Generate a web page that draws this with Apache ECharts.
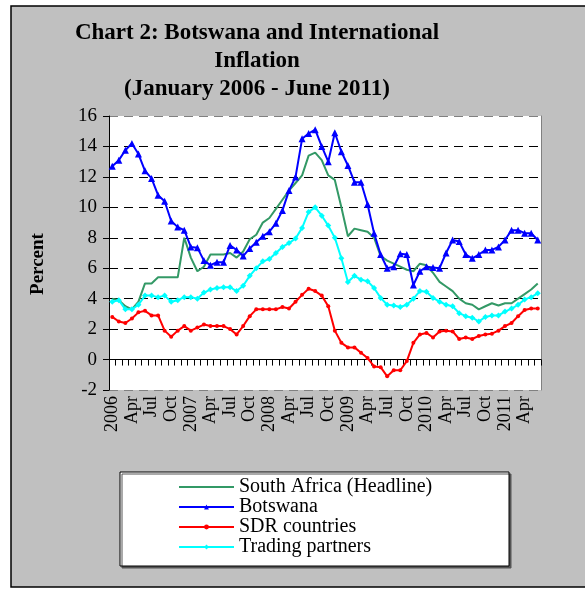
<!DOCTYPE html>
<html>
<head>
<meta charset="utf-8">
<script src="https://cdn.jsdelivr.net/npm/echarts@6/dist/echarts.min.js"></script>
<style>
html,body{margin:0;padding:0;background:#fff;}
#chart{width:585px;height:589px;}
</style>
</head>
<body>
<div id="chart"></div>
<script>
var monthNames = ['Jan','Feb','Mar','Apr','May','Jun','Jul','Aug','Sep','Oct','Nov','Dec'];
var years = [2006, 2007, 2008, 2009, 2010, 2011];
var categories = [];
years.forEach(function (y) {
  monthNames.forEach(function (m, k) {
    if (y === 2011 && k > 5) return;
    categories.push(k === 0 ? String(y) : m);
  });
});

var southAfrica = [4.0, 3.9, 3.5, 3.3, 3.8, 5.0, 5.0, 5.4, 5.4, 5.4, 5.4, 8.0,
  6.7, 5.8, 6.1, 6.9, 6.9, 6.9, 7.0, 6.7, 7.1, 7.9, 8.2, 9.0,
  9.3, 9.9, 10.5, 11.1, 11.6, 12.1, 13.4, 13.6, 13.1, 12.1, 11.8, 10.0,
  8.1, 8.6, 8.5, 8.4, 8.0, 6.8, 6.5, 6.3, 6.1, 5.9, 5.8, 6.3,
  6.2, 5.7, 5.1, 4.8, 4.5, 4.0, 3.7, 3.6, 3.3, 3.5, 3.7, 3.55,
  3.7, 3.7, 4.0, 4.3, 4.6, 5.0];
var botswana = [12.7, 13.1, 13.75, 14.2, 13.5, 12.4, 11.9, 10.8, 10.4, 9.1, 8.7, 8.5,
  7.4, 7.35, 6.5, 6.2, 6.4, 6.4, 7.5, 7.2, 6.8, 7.3, 7.7, 8.1,
  8.4, 8.95, 9.8, 11.1, 12.0, 14.5, 14.85, 15.1, 14.0, 13.0, 14.9, 13.65,
  12.75, 11.65, 11.65, 10.2, 8.3, 6.9, 6.0, 6.1, 6.95, 6.9, 4.9, 5.8,
  6.1, 6.05, 6.0, 7.0, 7.85, 7.75, 6.9, 6.65, 6.9, 7.2, 7.2, 7.4,
  7.85, 8.5, 8.5, 8.3, 8.3, 7.85];
var sdrCountries = [2.8, 2.5, 2.4, 2.7, 3.1, 3.2, 2.9, 2.9, 1.9, 1.5, 1.9, 2.2,
  1.9, 2.1, 2.3, 2.2, 2.2, 2.2, 2.0, 1.65, 2.2, 2.85, 3.3, 3.3,
  3.3, 3.3, 3.45, 3.35, 3.8, 4.25, 4.65, 4.5, 4.2, 3.5, 1.9, 1.1,
  0.8, 0.8, 0.45, 0.1, -0.45, -0.5, -1.1, -0.7, -0.7, -0.1, 1.1, 1.65,
  1.75, 1.45, 1.85, 1.9, 1.85, 1.35, 1.45, 1.35, 1.55, 1.65, 1.7, 1.9,
  2.2, 2.4, 2.85, 3.25, 3.35, 3.35];
var tradingPartners = [3.8, 3.9, 3.3, 3.3, 3.6, 4.2, 4.2, 4.1, 4.2, 3.8, 3.9, 4.1,
  4.1, 4.0, 4.4, 4.6, 4.7, 4.75, 4.75, 4.5, 4.85, 5.5, 6.0, 6.45,
  6.6, 7.0, 7.4, 7.65, 7.95, 8.65, 9.7, 10.0, 9.45, 8.8, 8.0, 6.65,
  5.1, 5.5, 5.25, 5.15, 4.7, 4.05, 3.6, 3.55, 3.45, 3.6, 4.0, 4.5,
  4.45, 4.05, 3.8, 3.6, 3.5, 3.05, 2.85, 2.75, 2.5, 2.8, 2.9, 2.9,
  3.15, 3.35, 3.6, 3.95, 4.1, 4.35];

var yTicks = { min: -2, max: 16, interval: 2 };
var seriesNames = ['South Africa (Headline)', 'Botswana', 'SDR countries', 'Trading partners'];

var serif = 'Liberation Serif';
var chart = echarts.init(document.getElementById('chart'), null, { renderer: 'canvas' });

var splitColors = [];
for (var v = yTicks.min; v <= yTicks.max; v += yTicks.interval) {
  splitColors.push((v === yTicks.min || v === yTicks.max) ? '#808080' : '#000000');
}

chart.setOption({
  backgroundColor: 'transparent',
  animation: false,
  title: {
    text: 'Chart 2: Botswana and International\nInflation\n(January 2006 - June 2011)',
    left: 257,
    top: 19,
    textAlign: 'center',
    padding: 0,
    textStyle: { fontFamily: serif, fontWeight: 'bold', fontSize: 23, lineHeight: 28, color: '#000' }
  },
  graphic: [
    { type: 'rect', z: -10, shape: { x: 11, y: 6, width: 600, height: 581 },
      style: { fill: '#c0c0c0', stroke: '#000', lineWidth: 1.5 } },
    { type: 'rect', z: 1, shape: { x: 120, y: 472, width: 389, height: 94 },
      style: { fill: '#fff', stroke: '#000', lineWidth: 1, shadowColor: '#555', shadowOffsetX: 2, shadowOffsetY: 2, shadowBlur: 0 } },
    { type: 'text', z: 5, x: 38, y: 264, rotation: Math.PI / 2,
      style: { text: 'Percent', fontFamily: serif, fontWeight: 'bold', fontSize: 19, fill: '#000', textAlign: 'center', textVerticalAlign: 'middle' } }
  ],
  legend: {
    orient: 'vertical',
    left: 178,
    top: 477,
    padding: 0,
    itemGap: 0,
    itemWidth: 55,
    itemHeight: 6,
    z: 10,
    data: [
      { name: seriesNames[0], itemStyle: { opacity: 0 } },
      { name: seriesNames[1] },
      { name: seriesNames[2] },
      { name: seriesNames[3] }
    ],
    textStyle: { fontFamily: serif, fontSize: 20, lineHeight: 19.3, color: '#000' }
  },
  grid: { left: 109, right: 44, top: 116, bottom: 199, show: true, backgroundColor: '#fff', borderWidth: 0 },
  xAxis: [
    {
      type: 'category', data: categories, boundaryGap: true,
      axisLine: { onZero: true, lineStyle: { color: '#000', width: 1 } },
      axisTick: { show: true, interval: 0, length: 6, lineStyle: { color: '#000' } },
      axisLabel: { show: false },
      splitLine: { show: false }
    },
    {
      type: 'category', data: categories, boundaryGap: true, position: 'bottom',
      axisLine: { show: false, onZero: false },
      axisTick: { show: false },
      axisLabel: { show: true, interval: 2, rotate: 90, margin: 6, fontFamily: serif, fontSize: 18, color: '#000' },
      splitLine: { show: false }
    }
  ],
  yAxis: [
    {
      type: 'value', min: yTicks.min, max: yTicks.max, interval: yTicks.interval,
      axisLine: { show: true, lineStyle: { color: '#000', width: 1 } },
      axisTick: { show: true, length: 6, lineStyle: { color: '#000' } },
      axisLabel: { margin: 12, fontFamily: serif, fontSize: 19, color: '#000' },
      splitLine: { show: true, lineStyle: { color: splitColors, type: [9, 6], width: 1 } }
    },
    {
      type: 'value', min: yTicks.min, max: yTicks.max, interval: yTicks.interval, position: 'right',
      axisLine: { show: true, lineStyle: { color: '#808080', width: 1 } },
      axisTick: { show: false }, axisLabel: { show: false }, splitLine: { show: false }
    }
  ],
  series: [
    { name: seriesNames[0], type: 'line', data: southAfrica, symbol: 'circle', showSymbol: false,
      lineStyle: { color: '#339966', width: 2 }, itemStyle: { color: '#339966' } },
    { name: seriesNames[1], type: 'line', data: botswana, symbol: 'triangle', symbolSize: 7, showAllSymbol: true,
      lineStyle: { color: '#0000ff', width: 2 }, itemStyle: { color: '#0000ff' } },
    { name: seriesNames[2], type: 'line', data: sdrCountries, symbol: 'circle', symbolSize: 4, showAllSymbol: true,
      lineStyle: { color: '#ff0000', width: 2 }, itemStyle: { color: '#ff0000' } },
    { name: seriesNames[3], type: 'line', data: tradingPartners, symbol: 'diamond', symbolSize: 6, showAllSymbol: true,
      lineStyle: { color: '#00ffff', width: 2 }, itemStyle: { color: '#00ffff' } }
  ]
});
</script>
</body>
</html>
